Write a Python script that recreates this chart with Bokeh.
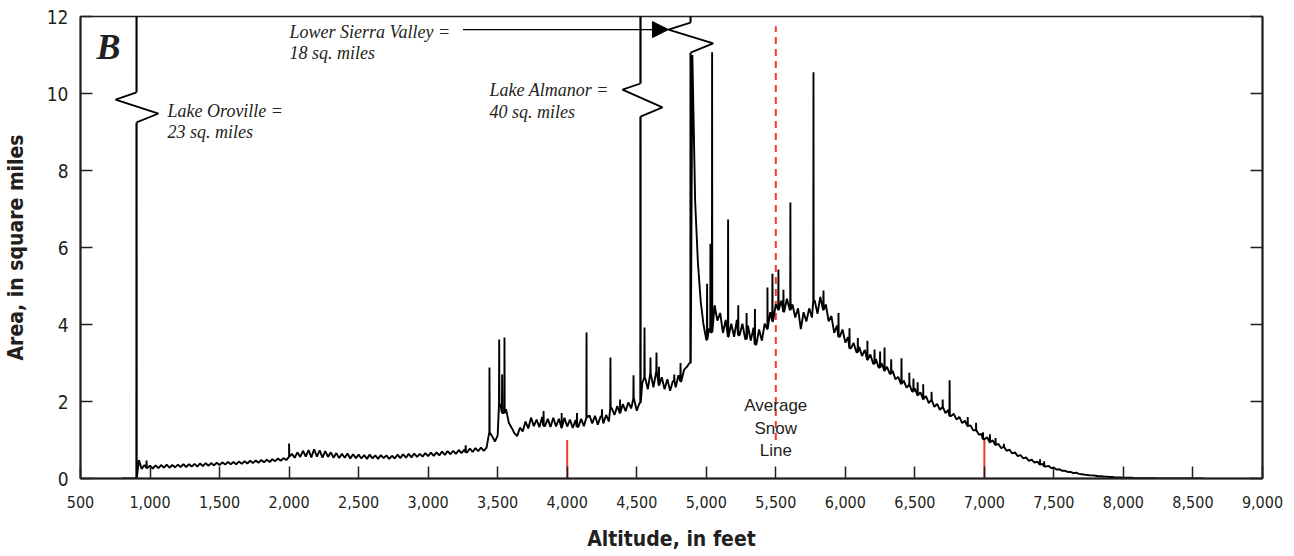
from bokeh.plotting import figure
from bokeh.models import (Range1d, LinearAxis, FixedTicker, NumeralTickFormatter,
                          Arrow, NormalHead)
from bokeh.core.properties import value
from bokeh.embed import file_html
from bokeh.resources import INLINE

# ---------------- data ----------------
x_ticks = [500, 1000, 1500, 2000, 2500, 3000, 3500, 4000, 4500, 5000,
           5500, 6000, 6500, 7000, 7500, 8000, 8500, 9000]
y_ticks = [0, 2, 4, 6, 8, 10, 12]

grid_start_ft = 800
grid_step_ft = 20
# area (sq. miles) per 20-ft altitude band, rows of 100 ft starting at 800 ft
area_grid = [
    0, 0, 0, 0, 0,                          # 800
    0, 0.48, 0.25, 0.35, 0.27,              # 900
    0.33, 0.26, 0.34, 0.27, 0.35,           # 1000
    0.28, 0.36, 0.28, 0.35, 0.29,           # 1100
    0.36, 0.30, 0.37, 0.30, 0.37,           # 1200
    0.31, 0.38, 0.31, 0.39, 0.32,           # 1300
    0.40, 0.33, 0.40, 0.34, 0.41,           # 1400
    0.35, 0.42, 0.36, 0.43, 0.37,           # 1500
    0.43, 0.37, 0.44, 0.38, 0.45,           # 1600
    0.39, 0.46, 0.40, 0.47, 0.41,           # 1700
    0.48, 0.42, 0.49, 0.43, 0.50,           # 1800
    0.45, 0.52, 0.46, 0.53, 0.48,           # 1900
    0.56, 0.64, 0.54, 0.68, 0.56,           # 2000
    0.72, 0.57, 0.74, 0.55, 0.76,           # 2100
    0.57, 0.73, 0.54, 0.71, 0.56,           # 2200
    0.68, 0.54, 0.66, 0.53, 0.64,           # 2300
    0.54, 0.65, 0.52, 0.63, 0.53,           # 2400
    0.62, 0.52, 0.61, 0.51, 0.62,           # 2500
    0.52, 0.60, 0.51, 0.61, 0.53,           # 2600
    0.60, 0.51, 0.59, 0.52, 0.62,           # 2700
    0.53, 0.63, 0.54, 0.64, 0.55,           # 2800
    0.65, 0.56, 0.64, 0.57, 0.66,           # 2900
    0.58, 0.67, 0.59, 0.68, 0.60,           # 3000
    0.70, 0.61, 0.71, 0.63, 0.72,           # 3100
    0.64, 0.74, 0.66, 0.75, 0.68,           # 3200
    0.78, 0.69, 0.79, 0.71, 0.80,           # 3300
    0.72, 0.80, 1.20, 1.10, 0.96,           # 3400
    1.12, 1.92, 1.70, 1.80, 1.45,           # 3500
    1.32, 1.18, 1.10, 1.32, 1.22,           # 3600
    1.48, 1.30, 1.58, 1.36, 1.53,           # 3700
    1.33, 1.60, 1.36, 1.55, 1.34,           # 3800
    1.58, 1.35, 1.55, 1.32, 1.58,           # 3900
    1.35, 1.53, 1.31, 1.52, 1.34,           # 4000
    1.55, 1.36, 1.58, 1.64, 1.43,           # 4100
    1.63, 1.40, 1.61, 1.43, 1.65,           # 4200
    1.48, 1.83, 1.65, 1.88, 1.70,           # 4300
    1.93, 1.75, 1.98, 1.82, 2.08,           # 4400
    1.76, 1.96, 2.48, 2.62, 2.32,           # 4500
    2.73, 2.37, 2.78, 2.42, 2.63,           # 4600
    2.32, 2.58, 2.28, 2.53, 2.37,           # 4700
    2.68, 2.52, 2.82, 2.90, 3.00,           # 4800
    11.0, 7.20, 5.60, 4.60, 4.00,           # 4900
    3.60, 3.90, 3.80, 4.50, 4.10,           # 5000
    4.30, 3.78, 4.12, 3.68, 4.02,           # 5100
    3.68, 4.12, 3.72, 4.02, 3.62,           # 5200
    3.97, 3.58, 3.92, 3.48, 3.87,           # 5300
    3.58, 4.02, 3.88, 4.32, 4.08,           # 5400
    4.52, 4.38, 4.62, 4.33, 4.67,           # 5500
    4.38, 4.52, 4.18, 4.42, 3.88,           # 5600
    4.32, 4.08, 4.42, 4.18, 4.62,           # 5700
    4.28, 4.72, 4.38, 4.52, 4.08,           # 5800
    4.22, 3.78, 3.97, 3.68, 3.87,           # 5900
    3.53, 3.67, 3.38, 3.52, 3.28,           # 6000
    3.42, 3.18, 3.34, 3.08, 3.22,           # 6100
    2.98, 3.10, 2.88, 3.00, 2.80,           # 6200
    2.90, 2.72, 2.80, 2.58, 2.64,           # 6300
    2.46, 2.54, 2.36, 2.44, 2.26,           # 6400
    2.34, 2.16, 2.24, 2.06, 2.14,           # 6500
    1.96, 2.04, 1.86, 1.94, 1.78,           # 6600
    1.86, 1.70, 1.78, 1.62, 1.68,           # 6700
    1.53, 1.60, 1.44, 1.50, 1.36,           # 6800
    1.38, 1.25, 1.26, 1.14, 1.16,           # 6900
    1.02, 1.07, 0.94, 0.99, 0.87,           # 7000
    0.90, 0.79, 0.82, 0.72, 0.75,           # 7100
    0.65, 0.68, 0.58, 0.61, 0.52,           # 7200
    0.55, 0.46, 0.49, 0.41, 0.44,           # 7300
    0.36, 0.38, 0.31, 0.33, 0.27,           # 7400
    0.28, 0.23, 0.24, 0.20, 0.20,           # 7500
    0.17, 0.17, 0.14, 0.15, 0.12,           # 7600
    0.11, 0.10, 0.09, 0.08, 0.08,           # 7700
    0.07, 0.06, 0.06, 0.05, 0.05,           # 7800
    0.04, 0.04, 0.03, 0.03, 0.03,           # 7900
    0.02, 0.02, 0.02, 0.02, 0.01,           # 8000
    0.01, 0.01, 0.01, 0.01, 0.01,           # 8100
    0.01, 0.01, 0, 0, 0,                    # 8200
    0, 0, 0, 0, 0,                          # 8300
    0, 0, 0, 0, 0,                          # 8400
    0, 0, 0, 0, 0,                          # 8500
]

# narrow single-band spikes (altitude ft, peak area)
spike_alt = [975, 2000, 3270, 3441, 3511, 3532, 3549, 3830, 3960, 4070, 4139,
             4250, 4311, 4380, 4477, 4556, 4599, 4642, 4660, 4770, 4815,
             5006, 5030, 5042, 5157, 5230, 5290, 5350, 5440, 5476, 5519, 5555,
             5605, 5771, 5843, 5951, 6030, 6090, 6159, 6210, 6250, 6282, 6330,
             6404, 6460, 6490, 6520, 6560, 6620, 6700, 6750, 6880, 6940, 6990,
             7040, 7080, 7140, 7400, 7430]
spike_area = [0.47, 0.91, 0.86, 2.88, 3.61, 2.70, 3.66, 1.75, 1.70, 1.70, 3.79,
              1.80, 3.14, 2.05, 2.68, 3.92, 3.14, 3.27, 2.90, 2.70, 3.00,
              5.06, 6.10, 11.07, 6.73, 4.50, 4.30, 4.40, 4.96, 5.32, 5.43, 4.90,
              7.17, 10.55, 4.88, 4.30, 3.90, 3.65, 3.58, 3.35, 3.30, 3.40, 3.10,
              3.12, 2.75, 2.60, 2.50, 2.45, 2.25, 2.05, 2.55, 1.60, 1.45, 1.20,
              1.15, 1.05, 0.90, 0.50, 0.45]

# lakes (off-scale values)
lake_names = ["Lake Oroville", "Lake Almanor", "Lower Sierra Valley"]
lake_alt = [903, 4527, 4887]
lake_area = [23, 40, 18]

# scale-break zigzags
oroville_break_alt = [903, 752, 1061, 903]
oroville_break_area = [10.03, 9.84, 9.48, 9.25]
almanor_break_alt = [4527, 4397, 4685, 4527]
almanor_break_area = [10.26, 10.10, 9.64, 9.40]
sierra_break_alt = [4887, 4728, 5050, 4887]
sierra_break_area = [11.84, 11.66, 11.30, 11.06]

# annotation texts
note_text = ["Lake Oroville =", "23 sq. miles",
             "Lower Sierra Valley =", "18 sq. miles",
             "Lake Almanor =", "40 sq. miles"]
note_alt = [1126, 1126, 2003, 2003, 3441, 3441]
note_area = [9.55, 9.01, 11.61, 11.06, 10.10, 9.53]

arrow_alt = [3250, 4728]
arrow_area = [11.66, 11.66]

snow_line_alt = 5500
snow_line_area = [1.0, 11.75]
snow_text = ["Average", "Snow", "Line"]
snow_text_area = [1.90, 1.31, 0.74]

red_mark_alt = [4000, 7000]
red_mark_top = [1.0, 1.04]

panel_letter = "B"

# ---------------- assemble series ----------------
pts = [(grid_start_ft + grid_step_ft * i, a) for i, a in enumerate(area_grid)]
for s, pk in list(zip(spike_alt, spike_area)) + list(zip(lake_alt, lake_area)):
    idx = int(round((s - grid_start_ft) / grid_step_ft))
    b = area_grid[idx]
    pts += [(s - 1.5, b), (s, pk), (s + 1.5, b)]
pts.sort(key=lambda t: t[0])
xs = [t[0] for t in pts]
ys = [t[1] for t in pts]

# ---------------- figure ----------------
SANS = "DejaVu Sans Condensed, Roboto, sans-serif"
SERIF = "Liberation Serif"
INK = "#231f20"
RED = "#ec3b2e"

p = figure(width=1290, height=556, x_range=Range1d(500, 9000), y_range=Range1d(0, 12),
           output_backend="svg", toolbar_location=None,
           min_border_left=80, min_border_right=28, min_border_top=16, min_border_bottom=78)
p.xgrid.visible = False
p.ygrid.visible = False
p.outline_line_color = INK
p.outline_line_width = 1.5
p.background_fill_color = "white"
p.border_fill_color = "white"

xa = p.xaxis[0]
xa.ticker = FixedTicker(ticks=x_ticks)
xa.formatter = NumeralTickFormatter(format="0,0")
ya = p.yaxis[0]
ya.ticker = FixedTicker(ticks=y_ticks)

ra = LinearAxis(ticker=FixedTicker(ticks=y_ticks))
ra.major_label_text_color = None
ra.major_label_text_font_size = "10px"
p.add_layout(ra, "right")

for ax in (xa, ya, ra):
    ax.major_tick_in = 12
    ax.major_tick_out = 0
    ax.minor_tick_line_color = None
    ax.axis_line_width = 2
    ax.axis_line_color = INK
    ax.major_tick_line_width = 1.5
    ax.major_tick_line_color = INK
    ax.major_label_text_font = SANS

xa.major_label_text_color = INK
ya.major_label_text_color = INK
xa.major_label_text_font_size = "16px"
ya.major_label_text_font_size = "19px"
xa.major_label_standoff = 17
ya.major_label_standoff = 12
xa.axis_label = "Altitude, in feet"
ya.axis_label = "Area, in square miles"
for ax in (xa, ya):
    ax.axis_label_text_font = SANS
    ax.axis_label_text_font_style = "bold"
    ax.axis_label_text_font_size = "21px"
    ax.axis_label_text_color = INK
xa.axis_label_standoff = 16
ya.axis_label_standoff = 16

# red markers
p.segment(x0=red_mark_alt, y0=[0, 0], x1=red_mark_alt, y1=red_mark_top,
          line_color=RED, line_width=2)
p.segment(x0=[snow_line_alt], y0=[snow_line_area[0]], x1=[snow_line_alt], y1=[snow_line_area[1]],
          line_color=RED, line_width=2, line_dash="7 5")

# main curve
p.line(xs, ys, line_color="black", line_width=1.9)

# scale breaks: blank the vertical then draw zigzag
for bx, by in ((oroville_break_alt, oroville_break_area),
               (almanor_break_alt, almanor_break_area),
               (sierra_break_alt, sierra_break_area)):
    p.quad(left=[bx[0] - 12], right=[bx[0] + 12], bottom=[by[-1]], top=[by[0]],
           fill_color="white", line_color=None)
    p.line(bx, by, line_color="black", line_width=1.8)

# arrow to Lower Sierra Valley
p.add_layout(Arrow(end=NormalHead(size=16, fill_color="black", line_color="black"),
                   x_start=arrow_alt[0], y_start=arrow_area[0],
                   x_end=arrow_alt[1], y_end=arrow_area[1],
                   line_color="black", line_width=1.2))

# notes
p.text(x=note_alt, y=note_area, text=note_text, text_font=value(SERIF),
       text_font_style="italic", text_font_size="18px", text_color=INK,
       text_baseline="middle", text_align="left")
p.text(x=[snow_line_alt] * 3, y=snow_text_area, text=snow_text,
       text_font=value("Liberation Sans"), text_font_size="17px", text_color=INK,
       text_baseline="middle", text_align="center")
p.text(x=[615], y=[11.22], text=[panel_letter], text_font=value(SERIF),
       text_font_style="bold italic", text_font_size="36px", text_color=INK,
       text_baseline="middle", text_align="left")

open("out.html", "w").write(file_html(p, INLINE))
